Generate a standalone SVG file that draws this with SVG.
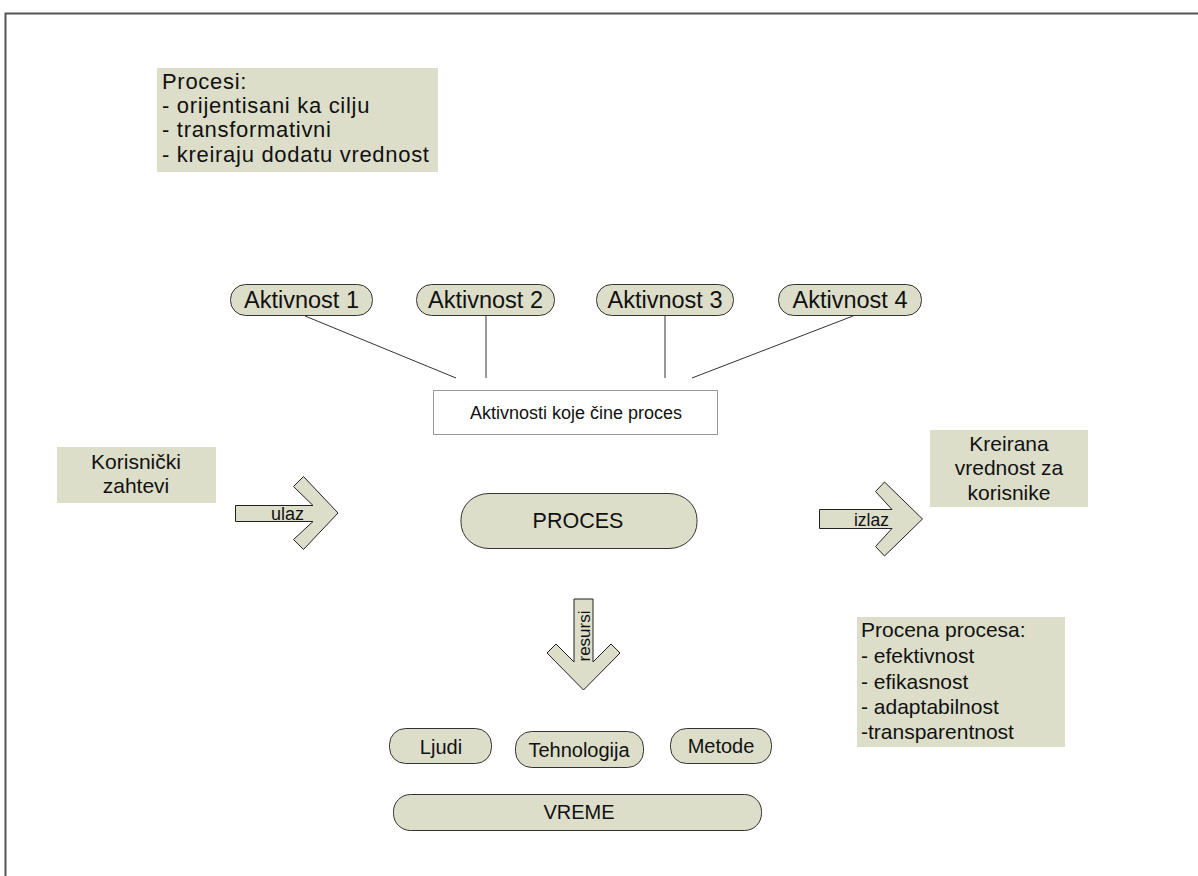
<svg xmlns="http://www.w3.org/2000/svg" width="1198" height="876" viewBox="0 0 1198 876">
<style>
.box{fill:#dcdec9;stroke:none}
.pill{fill:#dcdec9;stroke:#333;stroke-width:1}
.arrow{fill:#dcdec9;stroke:#222;stroke-width:1;stroke-linejoin:miter}
.t{font-family:"Liberation Sans",Arial,sans-serif;font-size:21px;fill:#111}
.c{text-anchor:middle}
.s{font-size:18px}
.a{font-size:23.5px}
.p{font-size:22px;letter-spacing:0.7px}
.conn{stroke:#333;stroke-width:1;fill:none}
</style>
<rect x="0" y="0" width="1198" height="876" fill="#fff"/>
<g id="frame"><path d="M5.5 876 V13.5 H1198" fill="none" stroke="#555" stroke-width="2"/></g>

<g id="procesi-note">
<rect class="box" x="157" y="68" width="281" height="104"/>
<text class="t p" x="162" y="89">Procesi:</text>
<text class="t p" x="162" y="113">- orijentisani ka cilju</text>
<text class="t p" x="162" y="137">- transformativni</text>
<text class="t p" x="162" y="162">- kreiraju dodatu vrednost</text>
</g>

<g id="connectors">
<line class="conn" x1="305" y1="316" x2="456" y2="378"/>
<line class="conn" x1="486" y1="316" x2="486" y2="378"/>
<line class="conn" x1="665" y1="316" x2="665" y2="378"/>
<line class="conn" x1="853" y1="316" x2="692" y2="378"/>
</g>

<g id="aktivnost1"><rect class="pill" x="230.5" y="284.5" width="142" height="31" rx="15" ry="15"/><text class="t c a" x="301.5" y="308">Aktivnost 1</text></g>
<g id="aktivnost2"><rect class="pill" x="416.5" y="284.5" width="138" height="31" rx="15" ry="15"/><text class="t c a" x="485.5" y="308">Aktivnost 2</text></g>
<g id="aktivnost3"><rect class="pill" x="596.5" y="284.5" width="137" height="31" rx="15" ry="15"/><text class="t c a" x="665" y="308">Aktivnost 3</text></g>
<g id="aktivnost4"><rect class="pill" x="778.5" y="284.5" width="143" height="31" rx="15" ry="15"/><text class="t c a" x="850" y="308">Aktivnost 4</text></g>

<g id="aktivnosti-box"><rect x="433.5" y="390.5" width="284" height="44" fill="#fff" stroke="#333" stroke-width="1" stroke-dasharray="1,1"/><text class="t c s" x="576" y="419">Aktivnosti koje čine proces</text></g>

<g id="korisnicki-zahtevi"><rect class="box" x="57" y="447" width="159" height="56"/><text class="t c" x="136" y="469">Korisnički</text><text class="t c" x="136" y="493">zahtevi</text></g>

<g id="ulaz"><path class="arrow" d="M235.5 505.5 H313 L293.5 486.5 L303.5 476.5 L338 513 L303.5 549.5 L293.5 539.5 L313 521.5 H235.5 Z"/><text class="t c" x="287.5" y="519.5" style="font-size:18px">ulaz</text></g>

<g id="proces"><rect class="pill" x="461" y="493.5" width="236" height="55" rx="28" ry="26"/><text class="t c" x="578" y="528" style="font-size:21.5px">PROCES</text></g>

<g id="izlaz"><path class="arrow" d="M819.5 509.5 H892 L875.5 491.5 L884.5 482 L922.5 519 L884.5 556 L875.5 546.5 L892 528.5 H819.5 Z"/><text class="t c" x="871.5" y="525.5" style="font-size:17.5px">izlaz</text></g>

<g id="kreirana-vrednost"><rect class="box" x="930" y="430" width="158" height="77"/><text class="t c" x="1009" y="451">Kreirana</text><text class="t c" x="1009" y="475">vrednost za</text><text class="t c" x="1009" y="500">korisnike</text></g>

<g id="resursi"><path class="arrow" d="M574 599 V662 L556 644 L547 653 L583.5 690 L620 653 L611 644 L593 662 V599 Z"/><text class="t c" transform="translate(590 636) rotate(-90)" x="0" y="0" style="font-size:17px">resursi</text></g>

<g id="procena-procesa"><rect class="box" x="857" y="617" width="208" height="130"/>
<text class="t" x="861" y="637">Procena procesa:</text>
<text class="t" x="861" y="663">- efektivnost</text>
<text class="t" x="861" y="689">- efikasnost</text>
<text class="t" x="861" y="714">- adaptabilnost</text>
<text class="t" x="861" y="739">-transparentnost</text>
</g>

<g id="ljudi"><rect class="pill" x="389.5" y="728.5" width="102" height="35" rx="16" ry="16"/><text class="t c" x="441" y="754" style="font-size:20px">Ljudi</text></g>
<g id="tehnologija"><rect class="pill" x="515.5" y="731.5" width="128" height="36" rx="16" ry="16"/><text class="t c" x="579" y="757" style="font-size:20px">Tehnologija</text></g>
<g id="metode"><rect class="pill" x="670.5" y="728.5" width="101" height="35" rx="16" ry="16"/><text class="t c" x="721" y="753" style="font-size:20px">Metode</text></g>
<g id="vreme"><rect class="pill" x="393.5" y="794.5" width="368" height="36" rx="17" ry="17"/><text class="t c" x="579" y="819" style="font-size:20px">VREME</text></g>
</svg>
